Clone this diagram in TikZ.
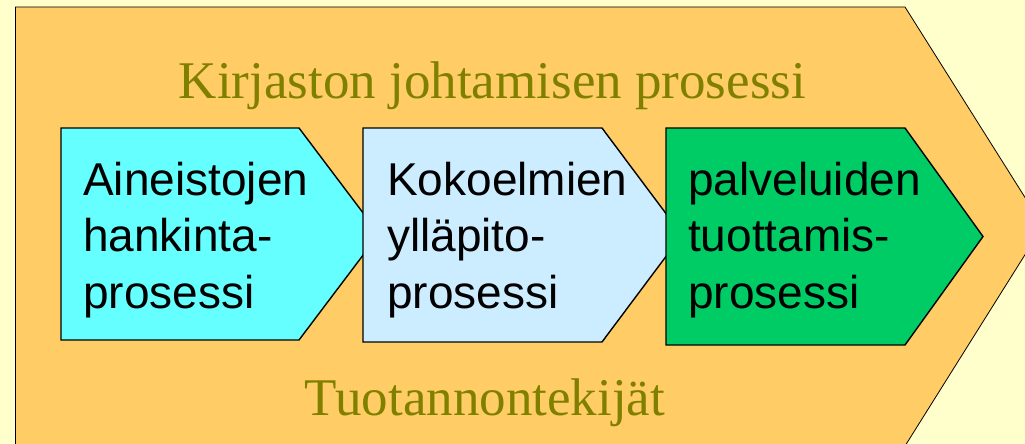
\documentclass[tikz,border=0pt]{standalone}
\usepackage{fontspec}
\setmainfont{Liberation Serif}
\newfontfamily\boxfont{Liberation Sans}
\definecolor{bgyellow}{HTML}{FFFFCC}
\definecolor{arroworange}{HTML}{FFCC66}
\definecolor{cyanbox}{HTML}{66FFFF}
\definecolor{bluebox}{HTML}{CCECFF}
\definecolor{greenbox}{HTML}{00CC66}
\definecolor{olivetext}{HTML}{808000}
\tikzset{
  bigarrow/.style={fill=arroworange, draw=black, line width=0.8pt, line join=miter},
  procbox/.style={draw=black, line width=1.4pt, line join=miter},
  boxtext/.style={inner sep=0pt, align=left, text=black, font=\boxfont\fontsize{46}{56.5}\selectfont},
  titletext/.style={inner sep=0pt, text=olivetext, font=\fontsize{53}{60}\selectfont}
}
\begin{document}
\begin{tikzpicture}[x=1pt,y=-1pt]
\fill[bgyellow] (0,0) rectangle (1025,444);
\useasboundingbox (0,0) rectangle (1025,444);
\begin{scope}
\clip (0,0) rectangle (1025,444);
\draw[bigarrow] (15.5,7) -- (905,7) -- (1043,226) -- (905,446) -- (15.5,446) -- cycle;
\end{scope}
\draw[procbox, fill=cyanbox] (61,128) -- (299,128) -- (379,234) -- (299,340) -- (61,340) -- cycle;
\draw[procbox, fill=bluebox] (363,128) -- (602,128) -- (682,235) -- (602,342) -- (363,342) -- cycle;
\draw[procbox, fill=greenbox] (666,128) -- (905,128) -- (983,236.5) -- (905,345) -- (666,345) -- cycle;
\node[titletext, anchor=base] (title) at (492.5,99) {Kirjaston johtamisen prosessi};
\node[titletext, anchor=base] (factors) at (485,415) {Tuotannontekijät};
\node[boxtext, anchor=base west] (t1) at (83,308) {Aineistojen\\hankinta-\\prosessi};
\node[boxtext, anchor=base west] (t2) at (387,308) {Kokoelmien\\ylläpito-\\prosessi};
\node[boxtext, anchor=base west] (t3) at (688,308) {palveluiden\\tuottamis-\\prosessi};
\end{tikzpicture}
\end{document}
